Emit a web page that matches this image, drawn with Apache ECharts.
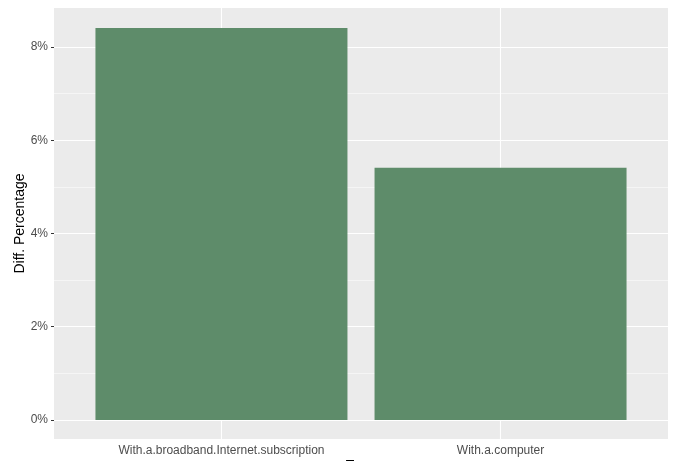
<!DOCTYPE html>
<html><head><meta charset="utf-8">
<script src="https://cdn.jsdelivr.net/npm/echarts@6/dist/echarts.min.js"></script>
<style>html,body{margin:0;padding:0;background:#fff}#c{width:684px;height:461px}</style>
</head><body><div id="c"></div>
<script>
const categories = ['With.a.broadband.Internet.subscription', 'With.a.computer'];
const values = [8.41, 5.41];
const yTicks = [0, 2, 4, 6, 8];
const yMinor = [1, 3, 5, 7];
const catPos = [1, 2];

const chart = echarts.init(document.getElementById('c'), null, {renderer: 'canvas'});
const font = '"Liberation Sans", Arial, sans-serif';
const gridLines = []
  .concat(yTicks.map(v => ({yAxis: v, lineStyle: {width: 1.1}})))
  .concat(yMinor.map(v => ({yAxis: v, lineStyle: {width: 0.5}})))
  .concat(catPos.map(v => ({xAxis: v, lineStyle: {width: 1.1}})));
chart.setOption({
  animation: false,
  grid: {left: 54, right: 16, top: 8, bottom: 22, show: true, backgroundColor: '#EBEBEB', borderWidth: 0,
    containLabel: false, outerBoundsMode: 'none'},
  xAxis: {
    type: 'value', min: 0.4, max: 2.6,
    name: 'Type', nameLocation: 'middle', nameGap: 20, nameMoveOverlap: false,
    nameTextStyle: {color: '#000', fontSize: 14, fontFamily: font, verticalAlign: 'top'},
    axisLine: {show: false},
    splitLine: {show: false},
    axisTick: {show: true, customValues: catPos, length: 3, lineStyle: {color: '#333'}},
    axisLabel: {customValues: catPos, color: '#4D4D4D', fontSize: 12, fontFamily: font, margin: 6,
      formatter: v => categories[Math.round(v) - 1] || ''}
  },
  yAxis: {
    type: 'value', min: -0.41, max: 8.84,
    name: 'Diff. Percentage', nameLocation: 'middle', nameGap: 27, nameRotate: 90, nameMoveOverlap: false,
    nameTextStyle: {color: '#000', fontSize: 14, fontFamily: font},
    axisLine: {show: false},
    splitLine: {show: false},
    axisTick: {show: true, customValues: yTicks, length: 3, lineStyle: {color: '#333'}},
    axisLabel: {customValues: yTicks, color: '#4D4D4D', fontSize: 12, fontFamily: font, margin: 6,
      formatter: v => Math.round(v) + '%'}
  },
  series: [
    {type: 'line', data: [], z: 1, silent: true,
      markLine: {silent: true, z: 1, symbol: 'none', label: {show: false}, animation: false,
        lineStyle: {color: '#FFFFFF', type: 'solid'}, emphasis: {disabled: true}, data: gridLines}},
    {type: 'bar', z: 3, barWidth: 252,
      itemStyle: {color: '#5E8C6A'},
      data: values.map((v, i) => [catPos[i], v])}
  ]
});
</script></body></html>
